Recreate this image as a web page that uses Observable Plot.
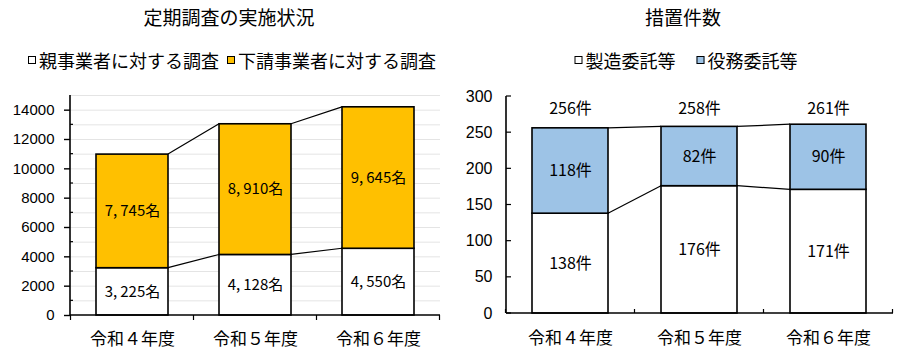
<!DOCTYPE html>
<html><head><meta charset="utf-8">
<script src="https://cdn.jsdelivr.net/npm/d3@7"></script>
<script src="https://cdn.jsdelivr.net/npm/@observablehq/plot@0.6"></script>
<style>
body{margin:0;background:#fff;width:903px;height:354px;position:relative;overflow:hidden;font-family:"Noto Sans CJK JP",sans-serif;color:#000;}
.title{position:absolute;top:5px;font-size:19px;transform:translateX(-50%);white-space:nowrap;line-height:24px;}
.legend{position:absolute;top:49px;transform:translateX(-50%);white-space:nowrap;font-size:18px;line-height:22px;display:flex;align-items:center;}
.sw{display:inline-block;width:6px;height:6px;border:1.4px solid #000;margin-right:3px;}
.panel{position:absolute;top:80px;}
</style></head><body>
<div class="title" style="left:229px">定期調査の実施状況</div>
<div class="legend" style="left:232px"><span class="sw" style="background:#fff"></span>親事業者に対する調査<span class="sw" style="background:#FFC000;margin-left:8px"></span>下請事業者に対する調査</div>
<div class="title" style="left:683px">措置件数</div>
<div class="legend" style="left:686px"><span class="sw" style="background:#fff"></span>製造委託等<span class="sw" style="background:#9DC3E6;margin-left:21px"></span>役務委託等</div>
<div id="left" class="panel" style="left:0px"></div>
<div id="right" class="panel" style="left:450px"></div>
<script>
// ---- data ----
const years = ["令和４年度", "令和５年度", "令和６年度"];
const leftSeries = ["親事業者に対する調査", "下請事業者に対する調査"];
const parentSurvey = [3225, 4128, 4550];
const subSurvey = [7745, 8910, 9645];
const leftTicks = [0, 2000, 4000, 6000, 8000, 10000, 12000, 14000];
const leftMinorTicks = [1000, 3000, 5000, 7000, 9000, 11000, 13000];
const leftGrid = [1000, 2000, 3000, 4000, 5000, 6000, 7000, 8000, 9000, 10000, 11000, 12000, 13000, 14000, 15000];

const rightSeries = ["製造委託等", "役務委託等"];
const manufacturing = [138, 176, 171];
const services = [118, 82, 90];
const rightTicks = [0, 50, 100, 150, 200, 250, 300];

// ---- derived tables ----
const leftRows = [];
years.forEach((y, i) => {
  leftRows.push({year: y, series: leftSeries[0], value: parentSurvey[i]});
  leftRows.push({year: y, series: leftSeries[1], value: subSurvey[i]});
});
const leftTotals = years.map((y, i) => parentSurvey[i] + subSurvey[i]);

const rightRows = [];
years.forEach((y, i) => {
  rightRows.push({year: y, series: rightSeries[0], value: manufacturing[i]});
  rightRows.push({year: y, series: rightSeries[1], value: services[i]});
});
const rightTotals = years.map((y, i) => ({year: y, total: manufacturing[i] + services[i]}));

const fmtName = v => d3.format(",")(v).replace(/,/g, ",\u2009") + "名";
const fmtKen = v => v + "件";

// connectors between adjacent bars
function connectors(levels, cats) {
  return (index, scales) => {
    const x = scales.x, y = scales.y;
    const bw = x.bandwidth ? x.bandwidth() : 0;
    const g = d3.create("svg:g").attr("stroke", "#000").attr("stroke-width", 1.2);
    for (const s of levels) for (let i = 0; i < cats.length - 1; i++) {
      g.append("line")
        .attr("x1", x(cats[i]) + bw).attr("x2", x(cats[i + 1]))
        .attr("y1", y(s[i])).attr("y2", y(s[i + 1]));
    }
    return g.node();
  };
}
// axis lines, category boundary ticks, extra y ticks
function axisDecor(cats, catDir, yMinor, minorLen) {
  return (index, scales, values, dims) => {
    const x = scales.x, y = scales.y;
    const bw = x.bandwidth ? x.bandwidth() : 0;
    const step = x(cats[1]) - x(cats[0]);
    const pad = (step - bw) / 2;
    const bounds = cats.map(c => x(c) - pad).concat([x(cats[cats.length - 1]) + bw + pad]);
    const y0 = y(0);
    const g = d3.create("svg:g").attr("stroke", "#000").attr("fill", "none");
    g.append("line").attr("x1", dims.marginLeft).attr("x2", dims.marginLeft)
      .attr("y1", dims.marginTop).attr("y2", y0).attr("stroke-width", 1.6);
    g.append("line").attr("x1", dims.marginLeft).attr("x2", dims.width - dims.marginRight)
      .attr("y1", y0).attr("y2", y0).attr("stroke-width", 1.6);
    for (const b of bounds) g.append("line").attr("x1", b).attr("x2", b)
      .attr("y1", y0).attr("y2", y0 + catDir).attr("stroke-width", 1.2);
    for (const t of yMinor) g.append("line").attr("x1", dims.marginLeft).attr("x2", dims.marginLeft + minorLen)
      .attr("y1", y(t)).attr("y2", y(t)).attr("stroke-width", 1.2);
    return g.node();
  };
}

const left = Plot.plot({
  width: 450, height: 274,
  marginLeft: 70, marginRight: 10, marginTop: 15, marginBottom: 39,
  x: {domain: years, paddingInner: 0.415, paddingOuter: 0.2075, axis: null},
  y: {domain: [0, 15000], axis: null},
  color: {domain: leftSeries, range: ["#ffffff", "#FFC000"]},
  style: {fontFamily: "'Noto Sans CJK JP', sans-serif", background: "transparent", overflow: "visible"},
  marks: [
    Plot.ruleY(leftGrid, {stroke: "#e4e4e4", strokeWidth: 1}),
    Plot.barY(leftRows, {x: "year", y: "value", fill: "series", stroke: "#000", strokeWidth: 1.6}),
    connectors([parentSurvey, leftTotals], years),
    axisDecor(years, 5, leftMinorTicks, 3),
    Plot.axisY({ticks: leftTicks, label: null, tickSize: 6, tickPadding: 10, tickFormat: d => String(d), fontSize: 15, fontFamily: "'Liberation Sans', Arial, sans-serif", strokeWidth: 1.4}),
    Plot.axisX({tickSize: 0, tickPadding: 17, fontSize: 17, label: null}),
    Plot.text(leftRows, Plot.stackY({x: "year", y: "value", text: d => fmtName(d.value), fontSize: 15}))
  ]
});
document.getElementById("left").append(left);

const right = Plot.plot({
  width: 453, height: 274,
  marginLeft: 56, marginRight: 10, marginTop: 16, marginBottom: 41,
  x: {domain: years, paddingInner: 0.41, paddingOuter: 0.205, axis: null},
  y: {domain: [0, 300], axis: null},
  color: {domain: rightSeries, range: ["#ffffff", "#9DC3E6"]},
  style: {fontFamily: "'Noto Sans CJK JP', sans-serif", background: "transparent", overflow: "visible"},
  marks: [
    Plot.barY(rightRows, {x: "year", y: "value", fill: "series", stroke: "#000", strokeWidth: 1.6}),
    connectors([manufacturing, rightTotals.map(d => d.total)], years),
    axisDecor(years, -4, rightTicks, 5),
    Plot.axisY({ticks: rightTicks, label: null, tickSize: 0, tickPadding: 14, tickFormat: d => String(d), fontSize: 16, fontFamily: "'Liberation Sans', Arial, sans-serif"}),
    Plot.axisX({tickSize: 0, tickPadding: 18, fontSize: 17, label: null}),
    Plot.text(rightRows, Plot.stackY({x: "year", y: "value", text: d => fmtKen(d.value), fontSize: 16})),
    Plot.text(rightTotals, {x: "year", text: d => fmtKen(d.total), frameAnchor: "top", dy: 6, fontSize: 16})
  ]
});
document.getElementById("right").append(right);
</script>
</body></html>
